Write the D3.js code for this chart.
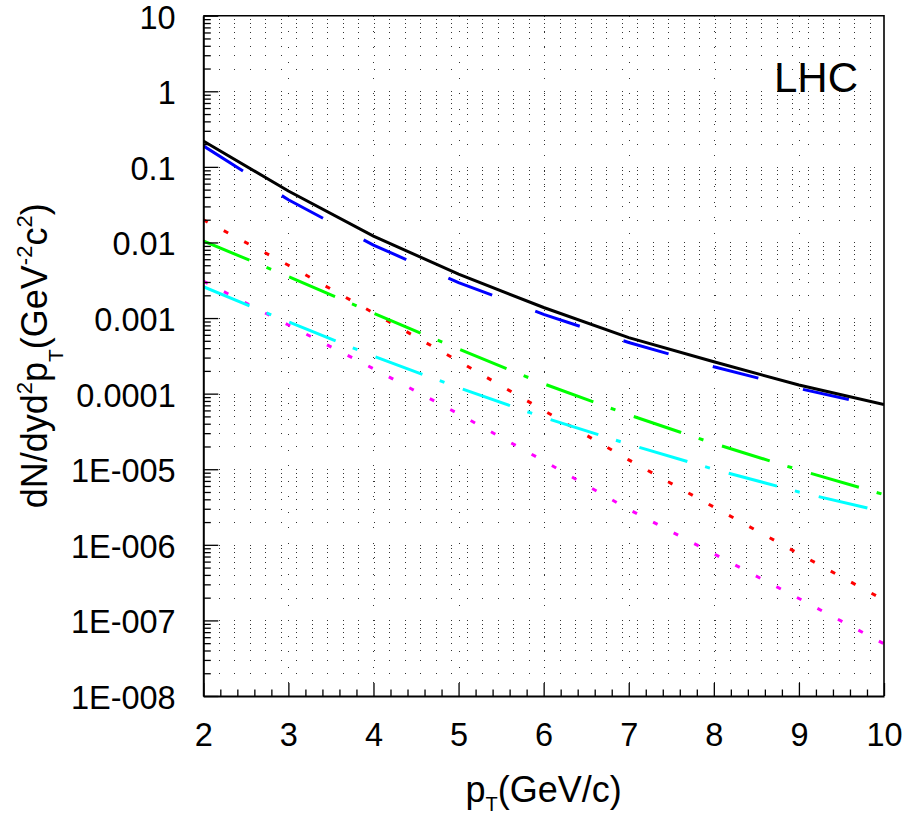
<!DOCTYPE html>
<html><head><meta charset="utf-8">
<script src="https://cdn.jsdelivr.net/npm/d3@7"></script>
<style>
body{margin:0;background:#fff}
svg{display:block}
text{font-family:"Liberation Sans",Arial,Helvetica,sans-serif;fill:#000}
</style>
</head><body>
<svg id="chart" width="906" height="829"></svg>
<script>
// ---- data ----
const pT = [2, 3, 4, 5, 6, 7, 8, 9, 10];
const blackCurve   = [0.22, 0.0479, 0.01216, 0.0038, 0.00138, 5.5e-4, 2.64e-4, 1.30e-4, 7.2e-5];
const blueCurve    = [0.19, 0.0367, 0.00923, 0.00295, 0.00112, 4.75e-4, 2.27e-4, 1.17e-4, 6.6e-5];
const redCurve     = [0.020, 5.0e-3, 1.17e-3, 2.69e-4, 6.0e-5, 1.33e-5, 3.16e-6, 7.6e-7, 1.86e-7];
const greenCurve   = [0.01047, 3.55e-3, 1.16e-3, 3.89e-4, 1.35e-4, 5.25e-5, 2.19e-5, 9.8e-6, 4.62e-6];
const cyanCurve    = [2.6e-3, 8.9e-4, 3.13e-4, 1.2e-4, 4.84e-5, 2.14e-5, 1.0e-5, 5.0e-6, 2.72e-6];
const magentaCurve = [3.09e-3, 8.1e-4, 2.14e-4, 5.4e-5, 1.29e-5, 2.95e-6, 7.6e-7, 1.95e-7, 4.9e-8];
const xTickValues = [2, 3, 4, 5, 6, 7, 8, 9, 10];
const xTickLabels = ["2", "3", "4", "5", "6", "7", "8", "9", "10"];
const yTickValues = [1e-8, 1e-7, 1e-6, 1e-5, 1e-4, 1e-3, 1e-2, 1e-1, 1, 10];
const yTickLabels = ["1E-008", "1E-007", "1E-006", "1E-005", "0.0001", "0.001", "0.01", "0.1", "1", "10"];
const panelLabel = "LHC";

// ---- styles ----
const seriesStyles = [
  {data: magentaCurve, color: "#ff00ff", dash: "5,18.2"},
  {data: redCurve,     color: "#ff0000", dash: "5,18.2"},
  {data: cyanCurve,    color: "#00ffff", dash: "50,18.5,5,19.5"},
  {data: greenCurve,   color: "#00ff00", dash: "50,18.5,5,19.5"},
  {data: blueCurve,    color: "#0000ff", dash: "47,46"},
  {data: blackCurve,   color: "#000000", dash: null}
];

const W = 906, H = 829;
const L = 203.3, R = 884, T = 15.7, B = 696;
const svg = d3.select("#chart");

const x = d3.scaleLinear().domain([2, 10]).range([L, R]);
const y = d3.scaleLog().domain([1e-8, 10]).range([B, T]);

// grid
const yGrid = [], yMinor = [];
for (let e = -8; e <= 0; e++) for (let m = 1; m <= 9; m++) {
  const v = m * Math.pow(10, e);
  if (v > 1e-8) yGrid.push(v);
  if (m > 1) yMinor.push(v);
}
const xMinor = [];
for (let i = 0; i <= 40; i++) { const v = 2 + i * 0.2; if (Math.abs(v - Math.round(v)) > 1e-6) xMinor.push(v); }

const grid = svg.append("g").attr("shape-rendering", "crispEdges");
grid.selectAll("line.h").data(yGrid).join("line")
  .attr("x1", L).attr("x2", R)
  .attr("y1", d => Math.round(y(d)) + 0.5).attr("y2", d => Math.round(y(d)) + 0.5)
  .attr("stroke", "#333").attr("stroke-width", 1).attr("stroke-dasharray", "1,14.5");
grid.selectAll("line.v").data(xTickValues.slice(1, -1)).join("line")
  .attr("y1", T).attr("y2", B)
  .attr("x1", d => Math.round(x(d)) + 0.5).attr("x2", d => Math.round(x(d)) + 0.5)
  .attr("stroke", "#333").attr("stroke-width", 1).attr("stroke-dasharray", "1,14.5");

// curves
const line = d3.line().x(d => x(d[0])).y(d => y(d[1]));
svg.append("defs").append("clipPath").attr("id", "clip")
  .append("rect").attr("x", L).attr("y", T).attr("width", R - L).attr("height", B - T);
const curves = svg.append("g").attr("clip-path", "url(#clip)");
seriesStyles.forEach(s => {
  curves.append("path")
    .attr("d", line(pT.map((p, i) => [p, s.data[i]])))
    .attr("fill", "none").attr("stroke", s.color).attr("stroke-width", 3)
    .attr("stroke-dasharray", s.dash);
});

// axes
const yAxis = d3.axisLeft(y).tickValues(yTickValues)
  .tickFormat((d, i) => yTickLabels[i]).tickSizeInner(-15).tickSizeOuter(0).tickPadding(27.6);
const gy = svg.append("g").attr("transform", `translate(${L},0)`).call(yAxis);
gy.selectAll("text").attr("font-size", 32.5).attr("dy", "0.38em");
gy.select(".domain").attr("stroke-width", 2);
gy.selectAll(".tick line").attr("stroke-width", 1.3);
const gyMinor = svg.append("g").attr("transform", `translate(${L},0)`)
  .call(d3.axisLeft(y).tickValues(yMinor).tickFormat("").tickSizeInner(-7.5).tickSizeOuter(0));
gyMinor.select(".domain").remove();
gyMinor.selectAll(".tick line").attr("stroke-width", 1.3);

const xAxis = d3.axisBottom(x).tickValues(xTickValues)
  .tickFormat((d, i) => xTickLabels[i]).tickSizeInner(-13).tickSizeOuter(0).tickPadding(27.3);
const gx = svg.append("g").attr("transform", `translate(0,${B})`).call(xAxis);
gx.selectAll("text").attr("font-size", 32.5);
gx.select(".domain").attr("stroke-width", 2);
gx.selectAll(".tick line").attr("stroke-width", 1.3);
const gxMinor = svg.append("g").attr("transform", `translate(0,${B})`)
  .call(d3.axisBottom(x).tickValues(xMinor).tickFormat("").tickSizeInner(-6.5).tickSizeOuter(0));
gxMinor.select(".domain").remove();
gxMinor.selectAll(".tick line").attr("stroke-width", 1.3);

svg.selectAll(".domain, .tick line").attr("stroke", "#000");
svg.selectAll(".tick text").attr("fill", "#000").attr("font-family", '"Liberation Sans",Arial,sans-serif');

// frame (top/right)
svg.append("path")
  .attr("d", `M${L},${T}H${R}V${B}`)
  .attr("fill", "none").attr("stroke", "#000").attr("stroke-width", 1.6);

// x title
const xt = svg.append("text").attr("x", (L + R) / 2).attr("y", 802)
  .attr("text-anchor", "middle").attr("font-size", 36);
xt.append("tspan").text("p");
xt.append("tspan").attr("font-size", 20).attr("dy", 9).text("T");
xt.append("tspan").attr("dy", -9).text("(GeV/c)");

// y title
const yt = svg.append("text")
  .attr("transform", `translate(47,${(T + B) / 2}) rotate(-90)`)
  .attr("text-anchor", "middle").attr("font-size", 36);
yt.append("tspan").text("dN/dyd");
yt.append("tspan").attr("font-size", 22).attr("dy", -15).text("2");
yt.append("tspan").attr("dy", 15).text("p");
yt.append("tspan").attr("font-size", 21).attr("dy", 16).text("T");
yt.append("tspan").attr("dy", -16).text("(GeV");
yt.append("tspan").attr("font-size", 22).attr("dy", -15).text("-2");
yt.append("tspan").attr("dy", 15).text("c");
yt.append("tspan").attr("font-size", 22).attr("dy", -15).text("2");
yt.append("tspan").attr("dy", 15).text(")");

// panel label
svg.append("text").attr("x", 774).attr("y", 92).attr("font-size", 42).text(panelLabel);
</script>
</body></html>
